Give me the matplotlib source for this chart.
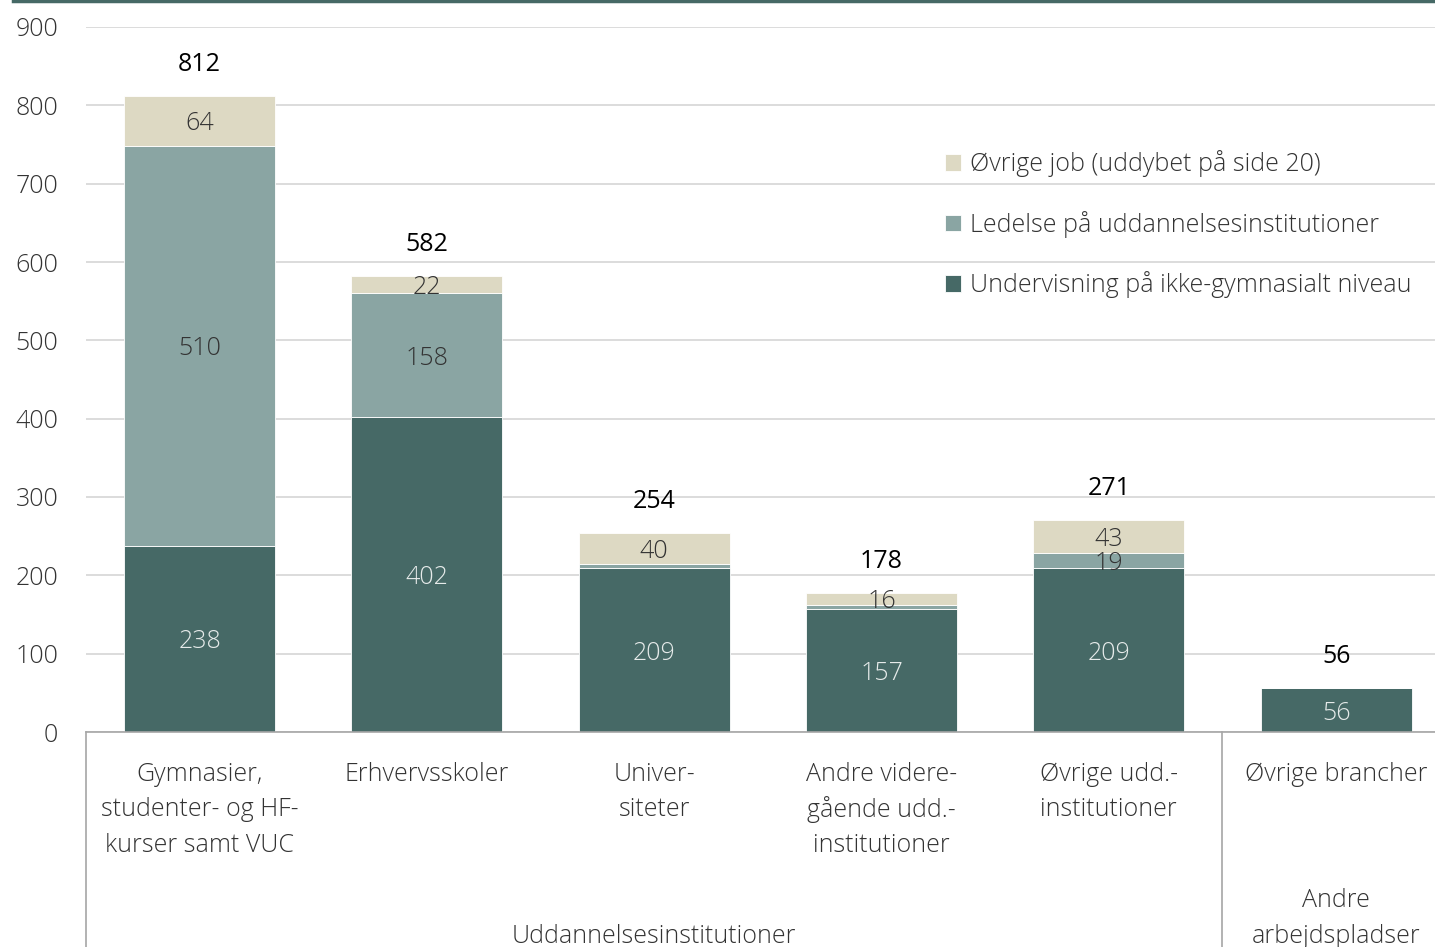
import matplotlib.pyplot as plt
import matplotlib.transforms as mtransforms
from matplotlib.lines import Line2D
import numpy as np

plt.rcParams['font.family'] = ['Open Sans', 'DejaVu Sans']

# -- Data --
categories = [
    ["Gymnasier,", "studenter- og HF-", "kurser samt VUC"],
    ["Erhvervsskoler"],
    ["Univer-", "siteter"],
    ["Andre videre-", "gående udd.-", "institutioner"],
    ["Øvrige udd.-", "institutioner"],
    ["Øvrige brancher"],
]
undervisning = [238, 402, 209, 157, 209, 56]
ledelse = [510, 158, 5, 5, 19, 0]
oevrige = [64, 22, 40, 16, 43, 0]
totals = [812, 582, 254, 178, 271, 56]
series_names = ["Undervisning på ikke-gymnasialt niveau",
                "Ledelse på uddannelsesinstitutioner",
                "Øvrige job (uddybet på side 20)"]
groups = [(2.0, ["Uddannelsesinstitutioner"]),
          (5.0, ["Andre", "arbejdspladser"])]

c_dark = "#466966"
c_mid = "#8aa5a3"
c_light = "#ddd9c3"
W, H = 1435, 947

fig = plt.figure(figsize=(W / 100, H / 100), dpi=100)
ax = fig.add_axes([86 / W, (H - 732) / H, (W - 86) / W, 705 / H])

x = np.arange(len(totals))
u = np.array(undervisning)
l = np.array(ledelse)
o = np.array(oevrige)
bw = 0.664
b1 = ax.bar(x, u, bw, color=c_dark, edgecolor="white", linewidth=0.6, label=series_names[0])
b2 = ax.bar(x, l, bw, bottom=u, color=c_mid, edgecolor="white", linewidth=0.6, label=series_names[1])
b3 = ax.bar(x, o, bw, bottom=u + l, color=c_light, edgecolor="white", linewidth=0.6, label=series_names[2])

fs = 18
for i in range(len(x)):
    ax.text(x[i], u[i] / 2, str(u[i]), ha="center", va="center_baseline", fontsize=fs,
            color="#e6ebea", fontweight="light")
    if l[i] >= 10:
        ax.text(x[i], u[i] + l[i] / 2, str(l[i]), ha="center", va="center_baseline",
                fontsize=fs, color="#333333", fontweight="light")
    if o[i] > 0:
        ax.text(x[i], u[i] + l[i] + o[i] / 2, str(o[i]), ha="center", va="center_baseline",
                fontsize=fs, color="#333333", fontweight="light")
    ax.text(x[i], totals[i] + 44, str(totals[i]), ha="center", va="center_baseline",
            fontsize=fs, color="black")

ax.set_xlim(-0.5, 5.435)
ax.set_ylim(0, 900)
ax.set_yticks(range(0, 901, 100))
ax.set_xticks([])
ax.tick_params(axis="y", length=0, pad=20, labelsize=fs, labelcolor="#333333")
for lab in ax.get_yticklabels():
    lab.set_fontweight("light")
ax.grid(axis="y", color="#d9d9d9", linewidth=1.3)
ax.set_axisbelow(True)
for s in ["top", "right", "left"]:
    ax.spines[s].set_visible(False)
ax.spines["bottom"].set_color("#a6a6a6")
ax.spines["bottom"].set_linewidth(1.2)

# category labels below the axis
trans = mtransforms.blended_transform_factory(ax.transData, fig.transFigure)
for i, lines in enumerate(categories):
    for j, line in enumerate(lines):
        fig.text(x[i], (H - 771 - j * 35.5) / H, line, transform=trans, ha="center",
                 va="center_baseline", fontsize=fs, color="#333333", fontweight="light")
for gx, lines in groups:
    y0 = 933 - (len(lines) - 1) * 36
    for j, line in enumerate(lines):
        fig.text(gx, (H - y0 - j * 36) / H, line, transform=trans, ha="center",
                 va="center_baseline", fontsize=fs, color="#333333", fontweight="light")

# separators
for sx in [-0.5, 4.5]:
    fig.add_artist(Line2D([sx, sx], [(H - 732) / H, 0], transform=trans,
                          color="#a6a6a6", linewidth=1.2, clip_on=False))

# top rule
fig.add_artist(Line2D([13 / W, 1], [1 - 1 / H, 1 - 1 / H], transform=fig.transFigure,
                      color=c_dark, linewidth=2.5))

leg = ax.legend(handles=[b3, b2, b1], loc="upper left",
                bbox_to_anchor=(945 / W, (H - 150) / H), bbox_transform=fig.transFigure,
                frameon=False, fontsize=fs, handlelength=0.65, handleheight=0.65,
                handletextpad=0.35, labelspacing=1.35, borderaxespad=0, borderpad=0)
for t in leg.get_texts():
    t.set_color("#333333")
    t.set_fontweight("light")

fig.savefig("out.png", dpi=100)
